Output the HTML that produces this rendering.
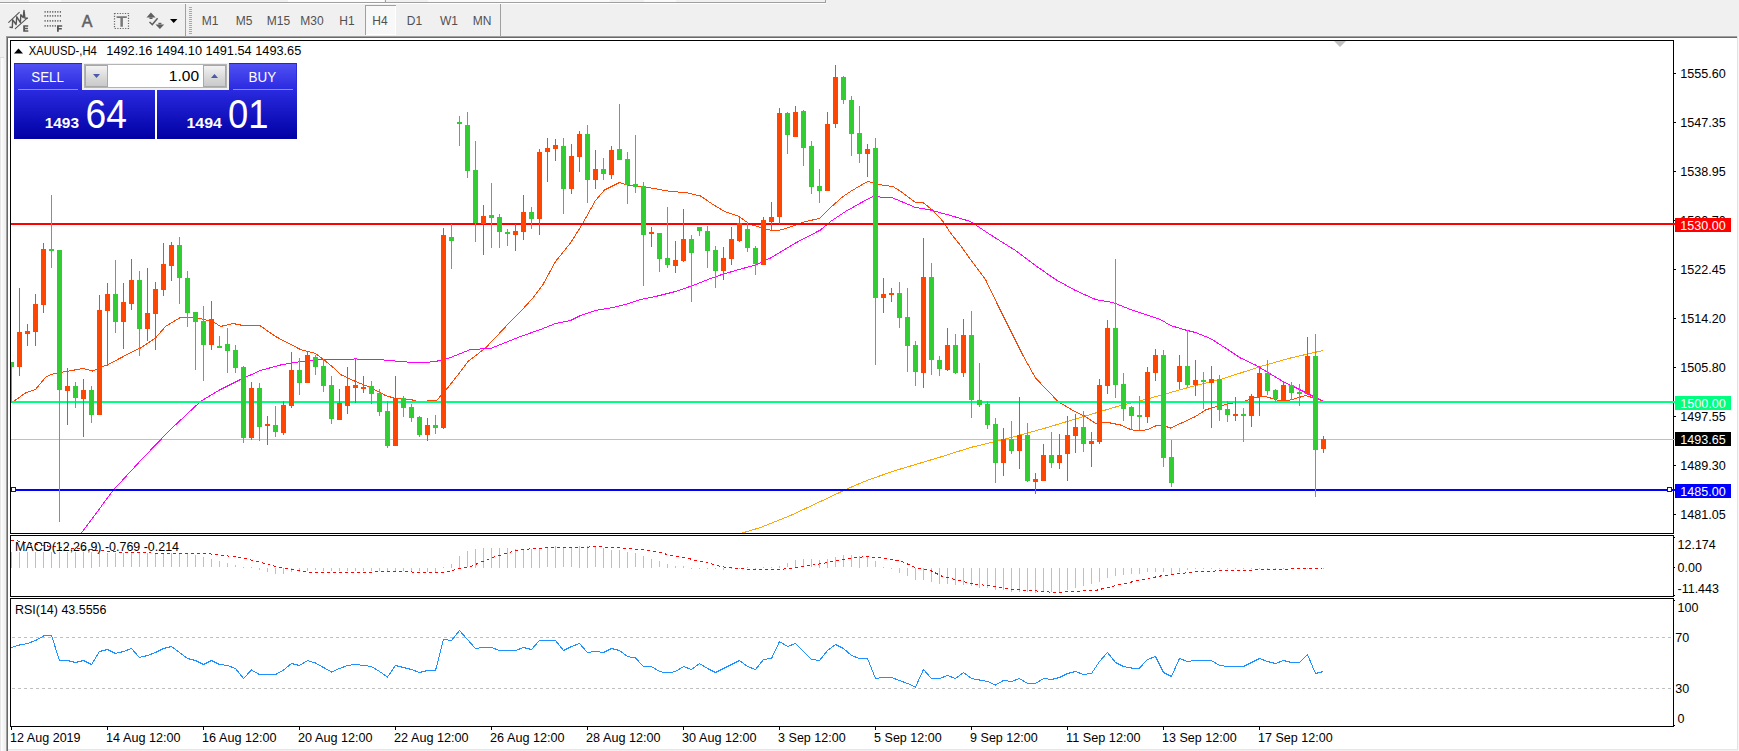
<!DOCTYPE html>
<html><head><meta charset="utf-8"><title>XAUUSD H4</title>
<style>html,body{margin:0;padding:0;background:#f0f0f0;overflow:hidden}body{width:1739px;height:751px;position:relative;font-family:"Liberation Sans",sans-serif}svg{position:absolute;left:0;top:0}text{font-family:"Liberation Sans",sans-serif}</style></head><body>
<svg width="1739" height="751" viewBox="0 0 1739 751">
<defs><linearGradient id="gb" x1="0" y1="0" x2="0" y2="1"><stop offset="0" stop-color="#5252f4"/><stop offset="0.35" stop-color="#2a2ae0"/><stop offset="1" stop-color="#0000a4"/></linearGradient>
<linearGradient id="gs" x1="0" y1="0" x2="0" y2="1"><stop offset="0" stop-color="#f4f4f4"/><stop offset="0.5" stop-color="#dcdcdc"/><stop offset="1" stop-color="#c8c8c8"/></linearGradient></defs>
<rect x="0" y="0" width="1739" height="751" fill="#f0f0f0"/>

<g id="toolbar">
<g shape-rendering="crispEdges"><rect x="29" y="0" width="32" height="2" fill="#fcfcfc"/><rect x="288" y="0" width="96" height="2" fill="#fcfcfc"/><rect x="428" y="0" width="182" height="2" fill="#fafafa"/><rect x="644" y="0" width="32" height="2" fill="#fafafa"/><rect x="0" y="2" width="826" height="1" fill="#a0a0a0"/><rect x="825" y="0" width="1" height="2" fill="#a0a0a0"/><rect x="0" y="3" width="826" height="1" fill="#ffffff"/><rect x="385" y="0" width="1" height="2" fill="#a0a0a0"/></g>
<g stroke="#555" fill="none" stroke-width="1.100" stroke-linecap="round" stroke-linejoin="round">
<line x1="8.700" y1="22.300" x2="19.300" y2="12.300"/>
<line x1="15.300" y1="28.700" x2="27.200" y2="18.100"/>
<polyline points="10,27.2 12.3,27.6 12.7,19.8 16.1,24.5 16.8,16.8 20.4,22.7 20.8,14.7 23.2,17.6 24,10.4 24.9,18.1 27.2,18.3" stroke-width="1.4"/>
</g>
<path d="M23.200 25.200h5v1.500h-3.200v1.100h2.900v1.400h-2.900v1.100h3.300v1.400h-5.100z" fill="#555"/>
<g stroke="#6a6a6a" stroke-width="1.800" stroke-dasharray="1.200 1.350" fill="none">
<line x1="44.500" y1="11.900" x2="61.500" y2="11.900"/>
<line x1="44.500" y1="15.800" x2="61.500" y2="15.800"/>
<line x1="44.500" y1="20.800" x2="61.500" y2="20.800"/>
<line x1="44.500" y1="25.900" x2="56" y2="25.900"/>
</g>
<path d="M57 25.200h5.200v1.500h-3.400v1.300h3v1.400h-3v2.300h-1.800z" fill="#555"/>
<text x="87" y="26.700" font-size="16px" fill="#606060" stroke="#606060" stroke-width="0.5" text-anchor="middle">A</text>
<rect x="114.500" y="13.500" width="14" height="15" fill="none" stroke="#666" stroke-width="1.200" stroke-dasharray="1.200 1.400"/>
<path d="M116.600 16.300h10.200v1.800h-3.900v8.600h-2.500v-8.600h-3.800z" fill="#777"/>
<g fill="#606060">
<polygon points="150.900,12.600 155.600,17.400 146.500,17.400"/>
<rect x="149.500" y="17.400" width="3" height="1.600"/>
<polygon points="159.900,28.900 155.500,24.400 164.200,24.400"/>
<rect x="158.400" y="22.800" width="3" height="1.600"/>
</g>
<polyline points="149.500,22 152.300,24.600 157.600,18.300" fill="none" stroke="#606060" stroke-width="1.500"/>
<polygon points="170,19 177.400,19 173.700,23" fill="#000"/>
<rect x="185" y="4" width="1" height="32" fill="#a0a0a0" shape-rendering="crispEdges"/>
<line x1="190.500" y1="7" x2="190.500" y2="34" stroke="#a8a8a8" stroke-width="3" stroke-dasharray="1 1" shape-rendering="crispEdges"/>
<rect x="500" y="4" width="1" height="32" fill="#a0a0a0" shape-rendering="crispEdges"/>
<g shape-rendering="crispEdges"><rect x="365" y="5" width="31" height="30" fill="#f8f8f8"/><rect x="365" y="5" width="31" height="1" fill="#a0a0a0"/><rect x="365" y="5" width="1" height="30" fill="#a0a0a0"/><rect x="395" y="6" width="1" height="29" fill="#ffffff"/><rect x="366" y="34" width="30" height="1" fill="#ffffff"/></g>
<g font-size="12px" fill="#505050" text-anchor="middle">
<text x="210" y="25">M1</text><text x="244" y="25">M5</text><text x="278.500" y="25">M15</text><text x="312" y="25">M30</text><text x="347" y="25">H1</text><text x="380" y="25">H4</text><text x="414.500" y="25">D1</text><text x="449" y="25">W1</text><text x="482" y="25">MN</text>
</g>
</g>

<g shape-rendering="crispEdges">
<rect x="6" y="36" width="1731" height="1" fill="#a0a0a0"/>
<rect x="6" y="37" width="1731" height="1" fill="#696969"/>
<rect x="6" y="36" width="1" height="715" fill="#a0a0a0"/>
<rect x="7" y="37" width="1" height="714" fill="#696969"/>
<rect x="1737" y="36" width="1" height="714" fill="#e3e3e3"/>
<rect x="1738" y="36" width="1" height="715" fill="#f6f6f6"/>
<rect x="8" y="749" width="1730" height="1" fill="#e6e6e6"/>
<rect x="0" y="57" width="1" height="694" fill="#e6e6e6"/>
<rect x="1" y="58" width="1" height="693" fill="#fdfdfd"/>
<rect x="2" y="58" width="1" height="693" fill="#f9f9f9"/>
<rect x="3" y="58" width="1" height="693" fill="#f5f5f5"/>
<rect x="0" y="57" width="4" height="1" fill="#dcdcdc"/>
<rect x="8" y="38" width="1729" height="711" fill="#ffffff"/>
</g>
<clipPath id="cm"><rect x="11" y="41" width="1662" height="492"/></clipPath>
<g clip-path="url(#cm)" shape-rendering="crispEdges">
<rect x="11" y="439" width="1662" height="1" fill="#c0c0c0"/>
<polyline points="740.5,533.5 760.5,527.5 790.5,515.5 820.5,501.5 848.0,488.5 868.0,480.0 895.5,470.5 920.5,463.0 945.5,455.5 970.5,447.5 995.5,441.5 1020.5,435.0 1045.5,428.0 1070.5,420.5 1095.5,413.0 1120.5,405.5 1145.5,399.5 1170.5,392.5 1195.5,385.5 1220.5,379.5 1260.5,366.5 1290.5,358.0 1323.0,350.5" fill="none" stroke="#ffa500" stroke-width="1" />
<polyline points="12.0,402.5 25.5,393.0 35.5,389.5 45.5,377.5 50.5,374.5 60.5,372.5 83.0,368.5 92.5,371.0 100.5,367.5 108.0,364.5 133.0,351.5 140.5,348.0 155.5,338.0 165.5,326.5 179.5,318.0 195.5,317.5 213.0,321.5 220.5,326.5 233.0,323.5 243.0,325.5 260.5,326.0 275.5,336.5 300.5,349.5 315.5,353.5 325.5,361.0 335.5,369.5 340.5,374.5 355.5,381.5 370.5,387.5 385.5,395.5 395.5,398.5 412.5,400.0 418.0,401.5 436.5,400.5 445.5,390.5 455.5,378.0 468.0,361.5 485.5,348.0 495.5,337.5 510.5,321.5 520.5,311.5 533.0,298.0 543.0,284.5 555.5,261.5 570.5,243.0 583.0,223.0 595.5,200.5 604.5,190.0 619.5,182.5 628.0,185.5 645.5,187.0 670.5,191.5 685.5,192.5 700.5,196.0 713.0,204.5 724.5,211.5 738.0,216.0 750.5,224.5 763.0,228.0 773.0,231.0 783.0,229.5 795.5,225.0 805.5,221.5 819.5,218.5 830.5,207.5 843.0,196.5 850.5,191.5 860.5,185.5 868.0,181.5 878.0,184.5 893.0,186.5 903.0,193.0 915.5,202.5 923.0,202.5 933.0,210.5 943.0,221.5 950.5,233.0 960.5,245.5 973.0,263.0 985.5,279.5 998.0,305.5 1010.5,330.5 1023.0,355.5 1035.5,378.0 1058.0,401.5 1073.0,410.5 1085.5,416.5 1095.5,423.5 1108.0,422.5 1120.5,425.0 1130.5,429.5 1138.0,431.0 1148.0,429.5 1155.5,426.0 1163.0,425.5 1170.5,428.0 1180.5,423.5 1195.5,416.5 1205.5,410.0 1213.0,407.5 1230.5,403.5 1245.5,401.0 1255.5,397.5 1265.5,396.5 1280.5,401.0 1290.5,400.0 1305.5,395.5 1315.5,398.5 1323.0,401.0" fill="none" stroke="#ff4500" stroke-width="1" />
<polyline points="81.5,533.0 113.0,490.5 143.0,458.0 170.5,429.5 200.5,401.5 220.5,389.5 240.5,379.5 260.5,370.5 280.5,365.0 300.5,361.5 320.5,359.5 355.5,359.0 375.5,359.2 400.5,361.5 420.5,363.0 435.5,361.5 448.0,358.5 458.0,354.5 470.5,349.5 490.5,348.5 500.5,344.5 520.5,336.5 540.5,329.5 555.5,323.5 570.5,320.5 580.5,315.5 595.5,310.5 610.5,308.0 625.5,304.5 640.5,299.5 655.5,296.5 675.5,291.5 693.0,285.5 710.5,278.5 720.5,275.0 735.5,270.5 755.5,265.0 770.5,258.0 795.5,243.0 820.5,230.0 830.5,221.5 845.5,211.5 860.5,203.0 873.0,196.5 893.0,198.0 915.5,207.5 930.5,210.0 950.5,215.5 970.5,221.5 985.5,231.5 995.5,238.0 1015.5,250.5 1035.5,265.5 1055.5,279.5 1075.5,290.5 1095.5,299.5 1113.0,302.5 1130.5,309.5 1145.5,314.5 1160.5,319.5 1170.5,325.5 1185.5,330.0 1195.5,332.5 1210.5,338.5 1225.5,348.0 1240.5,358.0 1255.5,365.0 1268.0,372.5 1283.0,381.5 1295.5,387.5 1310.5,395.0 1323.0,401.0" fill="none" stroke="#ff00ff" stroke-width="1" />
<rect x="11" y="223" width="1662" height="2" fill="#ff0000"/>
<rect x="11" y="401" width="1662" height="2" fill="#00ff7f"/>
<rect x="11" y="489" width="1662" height="2" fill="#0000ff"/>
<rect x="11.5" y="487.5" width="4" height="4" fill="#fff" stroke="#0000ff" stroke-width="1"/>
<rect x="1667.5" y="487.5" width="4" height="4" fill="#fff" stroke="#0000ff" stroke-width="1"/>
<rect x="11" y="362" width="1" height="41" fill="#32cd32"/>
<rect x="9" y="362" width="5" height="5" fill="#32cd32"/>
<rect x="19" y="288" width="1" height="88" fill="#ff4500"/>
<rect x="17" y="332" width="5" height="35" fill="#ff4500"/>
<rect x="27" y="324" width="1" height="22" fill="#ff4500"/>
<rect x="25" y="331" width="5" height="3" fill="#ff4500"/>
<rect x="35" y="294" width="1" height="52" fill="#ff4500"/>
<rect x="33" y="304" width="5" height="28" fill="#ff4500"/>
<rect x="43" y="243" width="1" height="70" fill="#ff4500"/>
<rect x="41" y="249" width="5" height="56" fill="#ff4500"/>
<rect x="51" y="195" width="1" height="73" fill="#32cd32"/>
<rect x="49" y="249" width="5" height="2" fill="#32cd32"/>
<rect x="59" y="250" width="1" height="272" fill="#32cd32"/>
<rect x="57" y="250" width="5" height="140" fill="#32cd32"/>
<rect x="67" y="368" width="1" height="57" fill="#ff4500"/>
<rect x="65" y="386" width="5" height="5" fill="#ff4500"/>
<rect x="75" y="382" width="1" height="26" fill="#32cd32"/>
<rect x="73" y="386" width="5" height="12" fill="#32cd32"/>
<rect x="83" y="379" width="1" height="58" fill="#ff4500"/>
<rect x="81" y="390" width="5" height="9" fill="#ff4500"/>
<rect x="91" y="386" width="1" height="37" fill="#32cd32"/>
<rect x="89" y="390" width="5" height="25" fill="#32cd32"/>
<rect x="99" y="295" width="1" height="120" fill="#ff4500"/>
<rect x="97" y="310" width="5" height="105" fill="#ff4500"/>
<rect x="107" y="283" width="1" height="83" fill="#ff4500"/>
<rect x="105" y="294" width="5" height="17" fill="#ff4500"/>
<rect x="115" y="260" width="1" height="73" fill="#32cd32"/>
<rect x="113" y="294" width="5" height="28" fill="#32cd32"/>
<rect x="123" y="283" width="1" height="66" fill="#ff4500"/>
<rect x="121" y="302" width="5" height="20" fill="#ff4500"/>
<rect x="131" y="259" width="1" height="51" fill="#ff4500"/>
<rect x="129" y="280" width="5" height="24" fill="#ff4500"/>
<rect x="139" y="271" width="1" height="85" fill="#32cd32"/>
<rect x="137" y="280" width="5" height="49" fill="#32cd32"/>
<rect x="147" y="268" width="1" height="73" fill="#ff4500"/>
<rect x="145" y="313" width="5" height="16" fill="#ff4500"/>
<rect x="155" y="282" width="1" height="68" fill="#ff4500"/>
<rect x="153" y="289" width="5" height="25" fill="#ff4500"/>
<rect x="163" y="243" width="1" height="53" fill="#ff4500"/>
<rect x="161" y="264" width="5" height="26" fill="#ff4500"/>
<rect x="171" y="242" width="1" height="39" fill="#ff4500"/>
<rect x="169" y="245" width="5" height="21" fill="#ff4500"/>
<rect x="179" y="237" width="1" height="67" fill="#32cd32"/>
<rect x="177" y="245" width="5" height="33" fill="#32cd32"/>
<rect x="187" y="271" width="1" height="56" fill="#32cd32"/>
<rect x="185" y="278" width="5" height="35" fill="#32cd32"/>
<rect x="195" y="312" width="1" height="58" fill="#32cd32"/>
<rect x="193" y="312" width="5" height="10" fill="#32cd32"/>
<rect x="203" y="306" width="1" height="75" fill="#32cd32"/>
<rect x="201" y="321" width="5" height="24" fill="#32cd32"/>
<rect x="211" y="301" width="1" height="49" fill="#ff4500"/>
<rect x="209" y="319" width="5" height="26" fill="#ff4500"/>
<rect x="219" y="336" width="1" height="12" fill="#32cd32"/>
<rect x="217" y="346" width="5" height="2" fill="#32cd32"/>
<rect x="227" y="328" width="1" height="45" fill="#32cd32"/>
<rect x="225" y="344" width="5" height="7" fill="#32cd32"/>
<rect x="235" y="345" width="1" height="28" fill="#32cd32"/>
<rect x="233" y="350" width="5" height="18" fill="#32cd32"/>
<rect x="243" y="366" width="1" height="77" fill="#32cd32"/>
<rect x="241" y="367" width="5" height="71" fill="#32cd32"/>
<rect x="251" y="382" width="1" height="58" fill="#ff4500"/>
<rect x="249" y="388" width="5" height="50" fill="#ff4500"/>
<rect x="259" y="383" width="1" height="58" fill="#32cd32"/>
<rect x="257" y="388" width="5" height="39" fill="#32cd32"/>
<rect x="267" y="416" width="1" height="29" fill="#ff4500"/>
<rect x="265" y="424" width="5" height="2" fill="#ff4500"/>
<rect x="275" y="406" width="1" height="31" fill="#32cd32"/>
<rect x="273" y="425" width="5" height="7" fill="#32cd32"/>
<rect x="283" y="401" width="1" height="34" fill="#ff4500"/>
<rect x="281" y="405" width="5" height="28" fill="#ff4500"/>
<rect x="291" y="352" width="1" height="56" fill="#ff4500"/>
<rect x="289" y="370" width="5" height="36" fill="#ff4500"/>
<rect x="299" y="358" width="1" height="37" fill="#32cd32"/>
<rect x="297" y="370" width="5" height="13" fill="#32cd32"/>
<rect x="307" y="352" width="1" height="31" fill="#ff4500"/>
<rect x="305" y="355" width="5" height="28" fill="#ff4500"/>
<rect x="315" y="355" width="1" height="20" fill="#32cd32"/>
<rect x="313" y="357" width="5" height="10" fill="#32cd32"/>
<rect x="323" y="359" width="1" height="33" fill="#32cd32"/>
<rect x="321" y="366" width="5" height="20" fill="#32cd32"/>
<rect x="331" y="376" width="1" height="48" fill="#32cd32"/>
<rect x="329" y="385" width="5" height="34" fill="#32cd32"/>
<rect x="339" y="389" width="1" height="31" fill="#ff4500"/>
<rect x="337" y="403" width="5" height="17" fill="#ff4500"/>
<rect x="347" y="367" width="1" height="47" fill="#ff4500"/>
<rect x="345" y="386" width="5" height="20" fill="#ff4500"/>
<rect x="355" y="358" width="1" height="45" fill="#ff4500"/>
<rect x="353" y="385" width="5" height="3" fill="#ff4500"/>
<rect x="363" y="376" width="1" height="17" fill="#ff4500"/>
<rect x="361" y="387" width="5" height="2" fill="#ff4500"/>
<rect x="371" y="381" width="1" height="23" fill="#32cd32"/>
<rect x="369" y="386" width="5" height="8" fill="#32cd32"/>
<rect x="379" y="389" width="1" height="27" fill="#32cd32"/>
<rect x="377" y="393" width="5" height="19" fill="#32cd32"/>
<rect x="387" y="401" width="1" height="47" fill="#32cd32"/>
<rect x="385" y="411" width="5" height="35" fill="#32cd32"/>
<rect x="395" y="376" width="1" height="70" fill="#ff4500"/>
<rect x="393" y="398" width="5" height="48" fill="#ff4500"/>
<rect x="403" y="396" width="1" height="21" fill="#32cd32"/>
<rect x="401" y="398" width="5" height="10" fill="#32cd32"/>
<rect x="411" y="404" width="1" height="18" fill="#32cd32"/>
<rect x="409" y="407" width="5" height="11" fill="#32cd32"/>
<rect x="419" y="416" width="1" height="21" fill="#32cd32"/>
<rect x="417" y="417" width="5" height="18" fill="#32cd32"/>
<rect x="427" y="418" width="1" height="23" fill="#ff4500"/>
<rect x="425" y="425" width="5" height="10" fill="#ff4500"/>
<rect x="435" y="415" width="1" height="19" fill="#32cd32"/>
<rect x="433" y="425" width="5" height="3" fill="#32cd32"/>
<rect x="443" y="228" width="1" height="201" fill="#ff4500"/>
<rect x="441" y="235" width="5" height="193" fill="#ff4500"/>
<rect x="451" y="224" width="1" height="45" fill="#32cd32"/>
<rect x="449" y="237" width="5" height="4" fill="#32cd32"/>
<rect x="459" y="116" width="1" height="30" fill="#32cd32"/>
<rect x="457" y="122" width="5" height="2" fill="#32cd32"/>
<rect x="467" y="112" width="1" height="66" fill="#32cd32"/>
<rect x="465" y="125" width="5" height="46" fill="#32cd32"/>
<rect x="475" y="141" width="1" height="101" fill="#32cd32"/>
<rect x="473" y="170" width="5" height="53" fill="#32cd32"/>
<rect x="483" y="205" width="1" height="50" fill="#ff4500"/>
<rect x="481" y="216" width="5" height="8" fill="#ff4500"/>
<rect x="491" y="183" width="1" height="65" fill="#32cd32"/>
<rect x="489" y="215" width="5" height="3" fill="#32cd32"/>
<rect x="499" y="214" width="1" height="34" fill="#32cd32"/>
<rect x="497" y="217" width="5" height="15" fill="#32cd32"/>
<rect x="507" y="229" width="1" height="17" fill="#32cd32"/>
<rect x="505" y="232" width="5" height="2" fill="#32cd32"/>
<rect x="515" y="224" width="1" height="27" fill="#ff4500"/>
<rect x="513" y="231" width="5" height="4" fill="#ff4500"/>
<rect x="523" y="195" width="1" height="45" fill="#ff4500"/>
<rect x="521" y="212" width="5" height="20" fill="#ff4500"/>
<rect x="531" y="207" width="1" height="22" fill="#32cd32"/>
<rect x="529" y="212" width="5" height="7" fill="#32cd32"/>
<rect x="539" y="149" width="1" height="86" fill="#ff4500"/>
<rect x="537" y="152" width="5" height="67" fill="#ff4500"/>
<rect x="547" y="138" width="1" height="44" fill="#ff4500"/>
<rect x="545" y="148" width="5" height="4" fill="#ff4500"/>
<rect x="555" y="139" width="1" height="22" fill="#ff4500"/>
<rect x="553" y="145" width="5" height="4" fill="#ff4500"/>
<rect x="563" y="138" width="1" height="76" fill="#32cd32"/>
<rect x="561" y="146" width="5" height="43" fill="#32cd32"/>
<rect x="571" y="144" width="1" height="50" fill="#ff4500"/>
<rect x="569" y="156" width="5" height="33" fill="#ff4500"/>
<rect x="579" y="131" width="1" height="41" fill="#ff4500"/>
<rect x="577" y="134" width="5" height="23" fill="#ff4500"/>
<rect x="587" y="125" width="1" height="78" fill="#32cd32"/>
<rect x="585" y="134" width="5" height="46" fill="#32cd32"/>
<rect x="595" y="150" width="1" height="39" fill="#ff4500"/>
<rect x="593" y="169" width="5" height="11" fill="#ff4500"/>
<rect x="603" y="158" width="1" height="22" fill="#32cd32"/>
<rect x="601" y="169" width="5" height="5" fill="#32cd32"/>
<rect x="611" y="146" width="1" height="33" fill="#ff4500"/>
<rect x="609" y="150" width="5" height="25" fill="#ff4500"/>
<rect x="619" y="104" width="1" height="56" fill="#32cd32"/>
<rect x="617" y="149" width="5" height="11" fill="#32cd32"/>
<rect x="627" y="152" width="1" height="52" fill="#32cd32"/>
<rect x="625" y="159" width="5" height="26" fill="#32cd32"/>
<rect x="635" y="135" width="1" height="58" fill="#32cd32"/>
<rect x="633" y="184" width="5" height="3" fill="#32cd32"/>
<rect x="643" y="182" width="1" height="104" fill="#32cd32"/>
<rect x="641" y="186" width="5" height="49" fill="#32cd32"/>
<rect x="651" y="227" width="1" height="20" fill="#ff4500"/>
<rect x="649" y="232" width="5" height="2" fill="#ff4500"/>
<rect x="659" y="233" width="1" height="39" fill="#32cd32"/>
<rect x="657" y="233" width="5" height="26" fill="#32cd32"/>
<rect x="667" y="207" width="1" height="61" fill="#32cd32"/>
<rect x="665" y="258" width="5" height="7" fill="#32cd32"/>
<rect x="675" y="241" width="1" height="32" fill="#ff4500"/>
<rect x="673" y="260" width="5" height="6" fill="#ff4500"/>
<rect x="683" y="209" width="1" height="53" fill="#ff4500"/>
<rect x="681" y="239" width="5" height="22" fill="#ff4500"/>
<rect x="691" y="235" width="1" height="67" fill="#32cd32"/>
<rect x="689" y="239" width="5" height="14" fill="#32cd32"/>
<rect x="699" y="227" width="1" height="9" fill="#32cd32"/>
<rect x="697" y="227" width="5" height="4" fill="#32cd32"/>
<rect x="707" y="226" width="1" height="42" fill="#32cd32"/>
<rect x="705" y="231" width="5" height="20" fill="#32cd32"/>
<rect x="715" y="246" width="1" height="42" fill="#32cd32"/>
<rect x="713" y="250" width="5" height="21" fill="#32cd32"/>
<rect x="723" y="247" width="1" height="33" fill="#ff4500"/>
<rect x="721" y="258" width="5" height="13" fill="#ff4500"/>
<rect x="731" y="227" width="1" height="38" fill="#ff4500"/>
<rect x="729" y="239" width="5" height="20" fill="#ff4500"/>
<rect x="739" y="218" width="1" height="24" fill="#ff4500"/>
<rect x="737" y="223" width="5" height="18" fill="#ff4500"/>
<rect x="747" y="222" width="1" height="30" fill="#32cd32"/>
<rect x="745" y="229" width="5" height="19" fill="#32cd32"/>
<rect x="755" y="246" width="1" height="29" fill="#32cd32"/>
<rect x="753" y="248" width="5" height="16" fill="#32cd32"/>
<rect x="763" y="217" width="1" height="48" fill="#ff4500"/>
<rect x="761" y="220" width="5" height="45" fill="#ff4500"/>
<rect x="771" y="202" width="1" height="28" fill="#ff4500"/>
<rect x="769" y="217" width="5" height="5" fill="#ff4500"/>
<rect x="779" y="108" width="1" height="116" fill="#ff4500"/>
<rect x="777" y="113" width="5" height="104" fill="#ff4500"/>
<rect x="787" y="112" width="1" height="42" fill="#32cd32"/>
<rect x="785" y="113" width="5" height="22" fill="#32cd32"/>
<rect x="795" y="106" width="1" height="31" fill="#ff4500"/>
<rect x="793" y="112" width="5" height="25" fill="#ff4500"/>
<rect x="803" y="110" width="1" height="56" fill="#32cd32"/>
<rect x="801" y="111" width="5" height="37" fill="#32cd32"/>
<rect x="811" y="141" width="1" height="53" fill="#32cd32"/>
<rect x="809" y="146" width="5" height="41" fill="#32cd32"/>
<rect x="819" y="169" width="1" height="34" fill="#32cd32"/>
<rect x="817" y="186" width="5" height="5" fill="#32cd32"/>
<rect x="827" y="112" width="1" height="79" fill="#ff4500"/>
<rect x="825" y="124" width="5" height="67" fill="#ff4500"/>
<rect x="835" y="65" width="1" height="63" fill="#ff4500"/>
<rect x="833" y="77" width="5" height="47" fill="#ff4500"/>
<rect x="843" y="76" width="1" height="28" fill="#32cd32"/>
<rect x="841" y="77" width="5" height="23" fill="#32cd32"/>
<rect x="851" y="96" width="1" height="60" fill="#32cd32"/>
<rect x="849" y="100" width="5" height="34" fill="#32cd32"/>
<rect x="859" y="106" width="1" height="57" fill="#32cd32"/>
<rect x="857" y="133" width="5" height="21" fill="#32cd32"/>
<rect x="867" y="144" width="1" height="33" fill="#ff4500"/>
<rect x="865" y="149" width="5" height="5" fill="#ff4500"/>
<rect x="875" y="138" width="1" height="227" fill="#32cd32"/>
<rect x="873" y="148" width="5" height="150" fill="#32cd32"/>
<rect x="883" y="278" width="1" height="35" fill="#ff4500"/>
<rect x="881" y="294" width="5" height="4" fill="#ff4500"/>
<rect x="891" y="288" width="1" height="14" fill="#ff4500"/>
<rect x="889" y="293" width="5" height="2" fill="#ff4500"/>
<rect x="899" y="282" width="1" height="46" fill="#32cd32"/>
<rect x="897" y="293" width="5" height="25" fill="#32cd32"/>
<rect x="907" y="288" width="1" height="84" fill="#32cd32"/>
<rect x="905" y="317" width="5" height="29" fill="#32cd32"/>
<rect x="915" y="341" width="1" height="45" fill="#32cd32"/>
<rect x="913" y="345" width="5" height="27" fill="#32cd32"/>
<rect x="923" y="238" width="1" height="150" fill="#ff4500"/>
<rect x="921" y="277" width="5" height="96" fill="#ff4500"/>
<rect x="931" y="263" width="1" height="112" fill="#32cd32"/>
<rect x="929" y="277" width="5" height="83" fill="#32cd32"/>
<rect x="939" y="356" width="1" height="20" fill="#32cd32"/>
<rect x="937" y="360" width="5" height="9" fill="#32cd32"/>
<rect x="947" y="328" width="1" height="43" fill="#ff4500"/>
<rect x="945" y="345" width="5" height="25" fill="#ff4500"/>
<rect x="955" y="334" width="1" height="40" fill="#32cd32"/>
<rect x="953" y="345" width="5" height="28" fill="#32cd32"/>
<rect x="963" y="319" width="1" height="58" fill="#ff4500"/>
<rect x="961" y="335" width="5" height="38" fill="#ff4500"/>
<rect x="971" y="311" width="1" height="107" fill="#32cd32"/>
<rect x="969" y="335" width="5" height="65" fill="#32cd32"/>
<rect x="979" y="363" width="1" height="44" fill="#32cd32"/>
<rect x="977" y="400" width="5" height="5" fill="#32cd32"/>
<rect x="987" y="401" width="1" height="28" fill="#32cd32"/>
<rect x="985" y="404" width="5" height="21" fill="#32cd32"/>
<rect x="995" y="418" width="1" height="65" fill="#32cd32"/>
<rect x="993" y="424" width="5" height="39" fill="#32cd32"/>
<rect x="1003" y="428" width="1" height="48" fill="#ff4500"/>
<rect x="1001" y="439" width="5" height="24" fill="#ff4500"/>
<rect x="1011" y="421" width="1" height="33" fill="#32cd32"/>
<rect x="1009" y="439" width="5" height="12" fill="#32cd32"/>
<rect x="1019" y="397" width="1" height="72" fill="#ff4500"/>
<rect x="1017" y="435" width="5" height="16" fill="#ff4500"/>
<rect x="1027" y="423" width="1" height="59" fill="#32cd32"/>
<rect x="1025" y="435" width="5" height="46" fill="#32cd32"/>
<rect x="1035" y="473" width="1" height="21" fill="#ff4500"/>
<rect x="1033" y="479" width="5" height="3" fill="#ff4500"/>
<rect x="1043" y="444" width="1" height="37" fill="#ff4500"/>
<rect x="1041" y="455" width="5" height="26" fill="#ff4500"/>
<rect x="1051" y="432" width="1" height="36" fill="#32cd32"/>
<rect x="1049" y="455" width="5" height="8" fill="#32cd32"/>
<rect x="1059" y="434" width="1" height="35" fill="#ff4500"/>
<rect x="1057" y="455" width="5" height="8" fill="#ff4500"/>
<rect x="1067" y="416" width="1" height="65" fill="#ff4500"/>
<rect x="1065" y="435" width="5" height="19" fill="#ff4500"/>
<rect x="1075" y="414" width="1" height="39" fill="#ff4500"/>
<rect x="1073" y="427" width="5" height="9" fill="#ff4500"/>
<rect x="1083" y="411" width="1" height="41" fill="#32cd32"/>
<rect x="1081" y="427" width="5" height="17" fill="#32cd32"/>
<rect x="1091" y="432" width="1" height="35" fill="#ff4500"/>
<rect x="1089" y="441" width="5" height="3" fill="#ff4500"/>
<rect x="1099" y="379" width="1" height="65" fill="#ff4500"/>
<rect x="1097" y="385" width="5" height="57" fill="#ff4500"/>
<rect x="1107" y="320" width="1" height="74" fill="#ff4500"/>
<rect x="1105" y="328" width="5" height="58" fill="#ff4500"/>
<rect x="1115" y="259" width="1" height="139" fill="#32cd32"/>
<rect x="1113" y="328" width="5" height="57" fill="#32cd32"/>
<rect x="1123" y="373" width="1" height="48" fill="#32cd32"/>
<rect x="1121" y="384" width="5" height="25" fill="#32cd32"/>
<rect x="1131" y="406" width="1" height="23" fill="#32cd32"/>
<rect x="1129" y="407" width="5" height="9" fill="#32cd32"/>
<rect x="1139" y="396" width="1" height="34" fill="#32cd32"/>
<rect x="1137" y="415" width="5" height="2" fill="#32cd32"/>
<rect x="1147" y="367" width="1" height="56" fill="#ff4500"/>
<rect x="1145" y="372" width="5" height="45" fill="#ff4500"/>
<rect x="1155" y="349" width="1" height="32" fill="#ff4500"/>
<rect x="1153" y="355" width="5" height="18" fill="#ff4500"/>
<rect x="1163" y="350" width="1" height="117" fill="#32cd32"/>
<rect x="1161" y="355" width="5" height="103" fill="#32cd32"/>
<rect x="1171" y="440" width="1" height="47" fill="#32cd32"/>
<rect x="1169" y="457" width="5" height="26" fill="#32cd32"/>
<rect x="1179" y="355" width="1" height="34" fill="#ff4500"/>
<rect x="1177" y="366" width="5" height="16" fill="#ff4500"/>
<rect x="1187" y="330" width="1" height="57" fill="#32cd32"/>
<rect x="1185" y="366" width="5" height="19" fill="#32cd32"/>
<rect x="1195" y="360" width="1" height="36" fill="#ff4500"/>
<rect x="1193" y="380" width="5" height="5" fill="#ff4500"/>
<rect x="1203" y="372" width="1" height="37" fill="#32cd32"/>
<rect x="1201" y="380" width="5" height="2" fill="#32cd32"/>
<rect x="1211" y="366" width="1" height="62" fill="#ff4500"/>
<rect x="1209" y="379" width="5" height="4" fill="#ff4500"/>
<rect x="1219" y="375" width="1" height="46" fill="#32cd32"/>
<rect x="1217" y="379" width="5" height="31" fill="#32cd32"/>
<rect x="1227" y="401" width="1" height="21" fill="#32cd32"/>
<rect x="1225" y="409" width="5" height="6" fill="#32cd32"/>
<rect x="1235" y="397" width="1" height="24" fill="#ff4500"/>
<rect x="1233" y="414" width="5" height="2" fill="#ff4500"/>
<rect x="1243" y="408" width="1" height="34" fill="#32cd32"/>
<rect x="1241" y="414" width="5" height="2" fill="#32cd32"/>
<rect x="1251" y="394" width="1" height="33" fill="#ff4500"/>
<rect x="1249" y="396" width="5" height="20" fill="#ff4500"/>
<rect x="1259" y="366" width="1" height="50" fill="#ff4500"/>
<rect x="1257" y="373" width="5" height="24" fill="#ff4500"/>
<rect x="1267" y="360" width="1" height="35" fill="#32cd32"/>
<rect x="1265" y="373" width="5" height="18" fill="#32cd32"/>
<rect x="1275" y="389" width="1" height="13" fill="#32cd32"/>
<rect x="1273" y="390" width="5" height="9" fill="#32cd32"/>
<rect x="1283" y="381" width="1" height="20" fill="#ff4500"/>
<rect x="1281" y="385" width="5" height="15" fill="#ff4500"/>
<rect x="1291" y="382" width="1" height="18" fill="#32cd32"/>
<rect x="1289" y="385" width="5" height="8" fill="#32cd32"/>
<rect x="1299" y="384" width="1" height="22" fill="#32cd32"/>
<rect x="1297" y="392" width="5" height="2" fill="#32cd32"/>
<rect x="1307" y="337" width="1" height="58" fill="#ff4500"/>
<rect x="1305" y="356" width="5" height="38" fill="#ff4500"/>
<rect x="1315" y="334" width="1" height="163" fill="#32cd32"/>
<rect x="1313" y="356" width="5" height="94" fill="#32cd32"/>
<rect x="1323" y="436" width="1" height="17" fill="#ff4500"/>
<rect x="1321" y="439" width="5" height="10" fill="#ff4500"/>
<polygon points="1334,41 1346,41 1340,47" fill="#c0c0c0" shape-rendering="geometricPrecision"/>
</g>
<g shape-rendering="crispEdges" fill="#000">
<rect x="10" y="40" width="1664" height="1"/>
<rect x="10" y="533" width="1664" height="1"/>
<rect x="10" y="40" width="1" height="494"/>
<rect x="1673" y="40" width="1" height="494"/>
<rect x="10" y="535" width="1664" height="1"/>
<rect x="10" y="596" width="1664" height="1"/>
<rect x="10" y="535" width="1" height="62"/>
<rect x="1673" y="535" width="1" height="62"/>
<rect x="10" y="598" width="1664" height="1"/>
<rect x="10" y="726" width="1664" height="1"/>
<rect x="10" y="598" width="1" height="129"/>
<rect x="1673" y="598" width="1" height="129"/>
</g>
<g shape-rendering="crispEdges"><rect x="1673" y="223" width="2" height="2" fill="#ff0000"/><rect x="1673" y="401" width="2" height="2" fill="#00ff7f"/><rect x="1673" y="439" width="2" height="1" fill="#c0c0c0"/><rect x="1673" y="489" width="2" height="2" fill="#0000ff"/></g>
<clipPath id="c2"><rect x="11" y="536" width="1662" height="60"/></clipPath>
<g clip-path="url(#c2)" shape-rendering="crispEdges">
<rect x="11" y="552" width="1" height="16" fill="#c0c0c0"/>
<rect x="19" y="552" width="1" height="16" fill="#c0c0c0"/>
<rect x="27" y="552" width="1" height="16" fill="#c0c0c0"/>
<rect x="35" y="552" width="1" height="16" fill="#c0c0c0"/>
<rect x="43" y="552" width="1" height="16" fill="#c0c0c0"/>
<rect x="51" y="552" width="1" height="16" fill="#c0c0c0"/>
<rect x="59" y="552" width="1" height="16" fill="#c0c0c0"/>
<rect x="67" y="552" width="1" height="16" fill="#c0c0c0"/>
<rect x="75" y="552" width="1" height="16" fill="#c0c0c0"/>
<rect x="83" y="552" width="1" height="16" fill="#c0c0c0"/>
<rect x="91" y="552" width="1" height="16" fill="#c0c0c0"/>
<rect x="99" y="553" width="1" height="14" fill="#c0c0c0"/>
<rect x="107" y="553" width="1" height="14" fill="#c0c0c0"/>
<rect x="115" y="553" width="1" height="14" fill="#c0c0c0"/>
<rect x="123" y="553" width="1" height="14" fill="#c0c0c0"/>
<rect x="131" y="553" width="1" height="14" fill="#c0c0c0"/>
<rect x="139" y="553" width="1" height="14" fill="#c0c0c0"/>
<rect x="147" y="553" width="1" height="14" fill="#c0c0c0"/>
<rect x="155" y="553" width="1" height="14" fill="#c0c0c0"/>
<rect x="163" y="553" width="1" height="14" fill="#c0c0c0"/>
<rect x="171" y="553" width="1" height="14" fill="#c0c0c0"/>
<rect x="179" y="553" width="1" height="14" fill="#c0c0c0"/>
<rect x="187" y="553" width="1" height="14" fill="#c0c0c0"/>
<rect x="195" y="555" width="1" height="12" fill="#c0c0c0"/>
<rect x="203" y="557" width="1" height="10" fill="#c0c0c0"/>
<rect x="211" y="559" width="1" height="8" fill="#c0c0c0"/>
<rect x="219" y="561" width="1" height="6" fill="#c0c0c0"/>
<rect x="227" y="563" width="1" height="4" fill="#c0c0c0"/>
<rect x="235" y="565" width="1" height="2" fill="#c0c0c0"/>
<rect x="243" y="567" width="1" height="1" fill="#c0c0c0"/>
<rect x="251" y="567" width="1" height="1" fill="#c0c0c0"/>
<rect x="259" y="568" width="1" height="2" fill="#c0c0c0"/>
<rect x="267" y="568" width="1" height="4" fill="#c0c0c0"/>
<rect x="275" y="568" width="1" height="6" fill="#c0c0c0"/>
<rect x="283" y="568" width="1" height="6" fill="#c0c0c0"/>
<rect x="291" y="568" width="1" height="4" fill="#c0c0c0"/>
<rect x="299" y="568" width="1" height="4" fill="#c0c0c0"/>
<rect x="307" y="568" width="1" height="3" fill="#c0c0c0"/>
<rect x="315" y="568" width="1" height="2" fill="#c0c0c0"/>
<rect x="323" y="568" width="1" height="3" fill="#c0c0c0"/>
<rect x="331" y="568" width="1" height="3" fill="#c0c0c0"/>
<rect x="339" y="568" width="1" height="3" fill="#c0c0c0"/>
<rect x="347" y="568" width="1" height="3" fill="#c0c0c0"/>
<rect x="355" y="568" width="1" height="3" fill="#c0c0c0"/>
<rect x="363" y="568" width="1" height="3" fill="#c0c0c0"/>
<rect x="371" y="568" width="1" height="3" fill="#c0c0c0"/>
<rect x="379" y="568" width="1" height="3" fill="#c0c0c0"/>
<rect x="387" y="568" width="1" height="3" fill="#c0c0c0"/>
<rect x="395" y="568" width="1" height="3" fill="#c0c0c0"/>
<rect x="403" y="568" width="1" height="3" fill="#c0c0c0"/>
<rect x="411" y="568" width="1" height="3" fill="#c0c0c0"/>
<rect x="419" y="568" width="1" height="3" fill="#c0c0c0"/>
<rect x="427" y="568" width="1" height="4" fill="#c0c0c0"/>
<rect x="435" y="568" width="1" height="4" fill="#c0c0c0"/>
<rect x="443" y="567" width="1" height="1" fill="#c0c0c0"/>
<rect x="451" y="564" width="1" height="4" fill="#c0c0c0"/>
<rect x="459" y="556" width="1" height="12" fill="#c0c0c0"/>
<rect x="467" y="551" width="1" height="16" fill="#c0c0c0"/>
<rect x="475" y="549" width="1" height="19" fill="#c0c0c0"/>
<rect x="483" y="548" width="1" height="20" fill="#c0c0c0"/>
<rect x="491" y="548" width="1" height="20" fill="#c0c0c0"/>
<rect x="499" y="548" width="1" height="20" fill="#c0c0c0"/>
<rect x="507" y="548" width="1" height="20" fill="#c0c0c0"/>
<rect x="515" y="549" width="1" height="19" fill="#c0c0c0"/>
<rect x="523" y="549" width="1" height="19" fill="#c0c0c0"/>
<rect x="531" y="549" width="1" height="19" fill="#c0c0c0"/>
<rect x="539" y="549" width="1" height="19" fill="#c0c0c0"/>
<rect x="547" y="547" width="1" height="20" fill="#c0c0c0"/>
<rect x="555" y="546" width="1" height="22" fill="#c0c0c0"/>
<rect x="563" y="547" width="1" height="20" fill="#c0c0c0"/>
<rect x="571" y="547" width="1" height="20" fill="#c0c0c0"/>
<rect x="579" y="546" width="1" height="22" fill="#c0c0c0"/>
<rect x="587" y="546" width="1" height="22" fill="#c0c0c0"/>
<rect x="595" y="547" width="1" height="20" fill="#c0c0c0"/>
<rect x="603" y="548" width="1" height="20" fill="#c0c0c0"/>
<rect x="611" y="550" width="1" height="18" fill="#c0c0c0"/>
<rect x="619" y="550" width="1" height="18" fill="#c0c0c0"/>
<rect x="627" y="552" width="1" height="16" fill="#c0c0c0"/>
<rect x="635" y="553" width="1" height="14" fill="#c0c0c0"/>
<rect x="643" y="556" width="1" height="12" fill="#c0c0c0"/>
<rect x="651" y="559" width="1" height="9" fill="#c0c0c0"/>
<rect x="659" y="561" width="1" height="6" fill="#c0c0c0"/>
<rect x="667" y="564" width="1" height="4" fill="#c0c0c0"/>
<rect x="675" y="566" width="1" height="2" fill="#c0c0c0"/>
<rect x="683" y="566" width="1" height="2" fill="#c0c0c0"/>
<rect x="691" y="568" width="1" height="1" fill="#c0c0c0"/>
<rect x="699" y="568" width="1" height="1" fill="#c0c0c0"/>
<rect x="707" y="568" width="1" height="1" fill="#c0c0c0"/>
<rect x="715" y="568" width="1" height="1" fill="#c0c0c0"/>
<rect x="723" y="568" width="1" height="2" fill="#c0c0c0"/>
<rect x="731" y="568" width="1" height="1" fill="#c0c0c0"/>
<rect x="739" y="568" width="1" height="1" fill="#c0c0c0"/>
<rect x="747" y="567" width="1" height="1" fill="#c0c0c0"/>
<rect x="755" y="568" width="1" height="1" fill="#c0c0c0"/>
<rect x="763" y="567" width="1" height="1" fill="#c0c0c0"/>
<rect x="771" y="567" width="1" height="1" fill="#c0c0c0"/>
<rect x="779" y="566" width="1" height="2" fill="#c0c0c0"/>
<rect x="787" y="563" width="1" height="4" fill="#c0c0c0"/>
<rect x="795" y="560" width="1" height="8" fill="#c0c0c0"/>
<rect x="803" y="559" width="1" height="8" fill="#c0c0c0"/>
<rect x="811" y="559" width="1" height="8" fill="#c0c0c0"/>
<rect x="819" y="560" width="1" height="8" fill="#c0c0c0"/>
<rect x="827" y="559" width="1" height="9" fill="#c0c0c0"/>
<rect x="835" y="557" width="1" height="10" fill="#c0c0c0"/>
<rect x="843" y="555" width="1" height="12" fill="#c0c0c0"/>
<rect x="851" y="555" width="1" height="12" fill="#c0c0c0"/>
<rect x="859" y="556" width="1" height="12" fill="#c0c0c0"/>
<rect x="867" y="557" width="1" height="10" fill="#c0c0c0"/>
<rect x="875" y="561" width="1" height="6" fill="#c0c0c0"/>
<rect x="883" y="567" width="1" height="1" fill="#c0c0c0"/>
<rect x="891" y="568" width="1" height="1" fill="#c0c0c0"/>
<rect x="899" y="568" width="1" height="5" fill="#c0c0c0"/>
<rect x="907" y="568" width="1" height="8" fill="#c0c0c0"/>
<rect x="915" y="568" width="1" height="12" fill="#c0c0c0"/>
<rect x="923" y="568" width="1" height="12" fill="#c0c0c0"/>
<rect x="931" y="568" width="1" height="14" fill="#c0c0c0"/>
<rect x="939" y="568" width="1" height="16" fill="#c0c0c0"/>
<rect x="947" y="568" width="1" height="16" fill="#c0c0c0"/>
<rect x="955" y="568" width="1" height="17" fill="#c0c0c0"/>
<rect x="963" y="568" width="1" height="17" fill="#c0c0c0"/>
<rect x="971" y="568" width="1" height="18" fill="#c0c0c0"/>
<rect x="979" y="568" width="1" height="20" fill="#c0c0c0"/>
<rect x="987" y="568" width="1" height="20" fill="#c0c0c0"/>
<rect x="995" y="568" width="1" height="22" fill="#c0c0c0"/>
<rect x="1003" y="568" width="1" height="22" fill="#c0c0c0"/>
<rect x="1011" y="568" width="1" height="24" fill="#c0c0c0"/>
<rect x="1019" y="568" width="1" height="24" fill="#c0c0c0"/>
<rect x="1027" y="568" width="1" height="24" fill="#c0c0c0"/>
<rect x="1035" y="568" width="1" height="25" fill="#c0c0c0"/>
<rect x="1043" y="568" width="1" height="24" fill="#c0c0c0"/>
<rect x="1051" y="568" width="1" height="24" fill="#c0c0c0"/>
<rect x="1059" y="568" width="1" height="24" fill="#c0c0c0"/>
<rect x="1067" y="568" width="1" height="22" fill="#c0c0c0"/>
<rect x="1075" y="568" width="1" height="20" fill="#c0c0c0"/>
<rect x="1083" y="568" width="1" height="18" fill="#c0c0c0"/>
<rect x="1091" y="568" width="1" height="16" fill="#c0c0c0"/>
<rect x="1099" y="568" width="1" height="14" fill="#c0c0c0"/>
<rect x="1107" y="568" width="1" height="10" fill="#c0c0c0"/>
<rect x="1115" y="568" width="1" height="8" fill="#c0c0c0"/>
<rect x="1123" y="568" width="1" height="7" fill="#c0c0c0"/>
<rect x="1131" y="568" width="1" height="6" fill="#c0c0c0"/>
<rect x="1139" y="568" width="1" height="6" fill="#c0c0c0"/>
<rect x="1147" y="568" width="1" height="4" fill="#c0c0c0"/>
<rect x="1155" y="568" width="1" height="4" fill="#c0c0c0"/>
<rect x="1163" y="568" width="1" height="4" fill="#c0c0c0"/>
<rect x="1171" y="568" width="1" height="6" fill="#c0c0c0"/>
<rect x="1179" y="568" width="1" height="4" fill="#c0c0c0"/>
<rect x="1187" y="568" width="1" height="2" fill="#c0c0c0"/>
<rect x="1195" y="568" width="1" height="1" fill="#c0c0c0"/>
<rect x="1203" y="568" width="1" height="1" fill="#c0c0c0"/>
<rect x="1211" y="568" width="1" height="1" fill="#c0c0c0"/>
<rect x="1219" y="568" width="1" height="1" fill="#c0c0c0"/>
<rect x="1227" y="568" width="1" height="1" fill="#c0c0c0"/>
<rect x="1235" y="568" width="1" height="1" fill="#c0c0c0"/>
<rect x="1243" y="568" width="1" height="1" fill="#c0c0c0"/>
<rect x="1251" y="568" width="1" height="1" fill="#c0c0c0"/>
<rect x="1259" y="568" width="1" height="1" fill="#c0c0c0"/>
<rect x="1267" y="568" width="1" height="1" fill="#c0c0c0"/>
<rect x="1275" y="568" width="1" height="1" fill="#c0c0c0"/>
<rect x="1283" y="568" width="1" height="1" fill="#c0c0c0"/>
<rect x="1291" y="568" width="1" height="1" fill="#c0c0c0"/>
<rect x="1299" y="568" width="1" height="1" fill="#c0c0c0"/>
<rect x="1307" y="568" width="1" height="1" fill="#c0c0c0"/>
<rect x="1315" y="568" width="1" height="1" fill="#c0c0c0"/>
<rect x="1323" y="568" width="1" height="1" fill="#c0c0c0"/>
<polyline points="11.5,540.0 20.5,541.5 50.5,546.5 75.5,548.5 100.5,550.5 125.5,552.5 150.5,553.0 200.5,553.0 215.5,554.5 240.5,557.5 257.5,561.5 275.5,566.5 295.5,570.0 312.5,572.5 350.5,572.5 400.5,571.5 434.5,573.0 445.5,572.5 457.5,569.0 470.5,566.5 482.5,561.5 495.5,556.5 507.5,553.0 520.5,549.5 545.5,548.0 582.5,547.5 595.5,546.5 620.5,548.0 645.5,550.0 660.5,552.5 670.5,555.5 685.5,557.5 695.5,560.5 710.5,563.5 720.5,566.5 735.5,568.5 755.5,569.5 780.5,569.5 795.5,567.5 810.5,565.5 825.5,563.0 840.5,560.0 852.5,558.0 867.5,556.5 885.5,558.5 900.5,561.0 915.5,567.5 930.5,570.5 942.5,576.5 955.5,579.5 970.5,583.5 990.5,586.0 1010.5,589.5 1030.5,590.5 1055.5,592.5 1070.5,591.5 1095.5,590.5 1105.5,588.0 1120.5,584.5 1140.5,580.0 1160.5,576.0 1180.5,573.5 1200.5,571.5 1230.5,570.5 1275.5,569.5 1322.5,568.0" fill="none" stroke="#ff0000" stroke-width="1" stroke-dasharray="3 3"/>
</g>
<clipPath id="c3"><rect x="11" y="599" width="1662" height="127"/></clipPath>
<g clip-path="url(#c3)" shape-rendering="crispEdges">
<line x1="12" y1="637.5" x2="1673" y2="637.5" stroke="#c0c0c0" stroke-dasharray="3 3"/>
<line x1="12" y1="688.5" x2="1673" y2="688.5" stroke="#c0c0c0" stroke-dasharray="3 3"/>
<polyline points="11.5,647.5 19.5,645.0 27.5,643.5 35.5,640.5 43.5,636.0 51.5,635.5 59.5,660.5 67.5,660.5 75.5,662.5 83.5,660.5 91.5,664.5 99.5,651.5 107.5,649.5 115.5,653.5 123.5,651.5 131.5,648.5 139.5,657.5 147.5,655.5 155.5,652.5 163.5,648.5 171.5,646.5 179.5,652.5 187.5,658.5 195.5,660.5 203.5,664.5 211.5,660.5 219.5,664.5 227.5,665.5 235.5,668.5 243.5,678.5 251.5,670.0 259.5,674.5 267.5,674.5 275.5,674.5 283.5,670.0 291.5,663.5 299.5,665.5 307.5,660.5 315.5,663.0 323.5,667.5 331.5,672.0 339.5,668.5 347.5,665.5 355.5,664.5 363.5,665.5 371.5,666.5 379.5,671.5 387.5,677.0 395.5,665.5 403.5,667.5 411.5,669.5 419.5,672.5 427.5,670.5 435.5,670.5 443.5,639.5 451.5,640.5 459.5,630.5 467.5,639.5 475.5,648.5 483.5,647.5 491.5,647.5 499.5,650.5 507.5,650.5 515.5,650.5 523.5,647.5 531.5,649.5 539.5,640.5 547.5,640.5 555.5,640.5 563.5,650.5 571.5,646.5 579.5,643.5 587.5,652.5 595.5,651.5 603.5,652.5 611.5,648.5 619.5,650.5 627.5,656.5 635.5,658.0 643.5,666.5 651.5,666.5 659.5,671.5 667.5,673.0 675.5,671.5 683.5,666.5 691.5,669.5 699.5,663.5 707.5,668.5 715.5,672.5 723.5,668.5 731.5,664.5 739.5,660.5 747.5,666.5 755.5,669.5 763.5,659.5 771.5,658.5 779.5,641.5 787.5,646.5 795.5,643.5 803.5,651.5 811.5,659.5 819.5,660.5 827.5,650.5 835.5,644.5 843.5,648.5 851.5,655.5 859.5,658.5 867.5,658.5 875.5,678.5 883.5,677.5 891.5,677.5 899.5,680.5 907.5,683.5 915.5,687.0 923.5,669.5 931.5,678.5 939.5,678.5 947.5,675.5 955.5,678.5 963.5,672.5 971.5,678.5 979.5,680.0 987.5,681.5 995.5,685.0 1003.5,680.5 1011.5,681.5 1019.5,678.5 1027.5,683.5 1035.5,683.5 1043.5,678.5 1051.5,679.5 1059.5,677.5 1067.5,673.5 1075.5,671.5 1083.5,674.5 1091.5,673.5 1099.5,661.5 1107.5,652.5 1115.5,662.5 1123.5,666.5 1131.5,668.0 1139.5,668.0 1147.5,659.5 1155.5,656.5 1163.5,672.5 1171.5,676.5 1179.5,658.5 1187.5,661.5 1195.5,660.5 1203.5,660.5 1211.5,660.5 1219.5,665.5 1227.5,666.5 1235.5,666.5 1243.5,666.5 1251.5,662.5 1259.5,658.5 1267.5,661.5 1275.5,663.5 1283.5,660.5 1291.5,662.5 1299.5,662.5 1307.5,654.5 1315.5,673.5 1323.5,671.5" fill="none" stroke="#1e90ff" stroke-width="1" />
</g>
<g shape-rendering="crispEdges" fill="#000">
<rect x="1674" y="73" width="2" height="1"/>
<rect x="1674" y="122" width="2" height="1"/>
<rect x="1674" y="171" width="2" height="1"/>
<rect x="1674" y="220" width="2" height="1"/>
<rect x="1674" y="269" width="2" height="1"/>
<rect x="1674" y="318" width="2" height="1"/>
<rect x="1674" y="367" width="2" height="1"/>
<rect x="1674" y="416" width="2" height="1"/>
<rect x="1674" y="465" width="2" height="1"/>
<rect x="1674" y="514" width="2" height="1"/>
<rect x="1674" y="537" width="1" height="1"/>
<rect x="1674" y="567" width="1" height="1"/>
<rect x="1674" y="595" width="1" height="1"/>
<rect x="1674" y="600" width="1" height="1"/>
<rect x="1674" y="725" width="1" height="1"/>
<rect x="11" y="727" width="1" height="3"/>
<rect x="107" y="727" width="1" height="3"/>
<rect x="203" y="727" width="1" height="3"/>
<rect x="299" y="727" width="1" height="3"/>
<rect x="395" y="727" width="1" height="3"/>
<rect x="491" y="727" width="1" height="3"/>
<rect x="587" y="727" width="1" height="3"/>
<rect x="683" y="727" width="1" height="3"/>
<rect x="779" y="727" width="1" height="3"/>
<rect x="875" y="727" width="1" height="3"/>
<rect x="971" y="727" width="1" height="3"/>
<rect x="1067" y="727" width="1" height="3"/>
<rect x="1163" y="727" width="1" height="3"/>
<rect x="1259" y="727" width="1" height="3"/>
</g>
<g font-size="12.5px" fill="#000">
<text x="1680.2" y="78" textLength="45.5" lengthAdjust="spacingAndGlyphs">1555.60</text>
<text x="1680.2" y="127" textLength="45.5" lengthAdjust="spacingAndGlyphs">1547.35</text>
<text x="1680.2" y="176" textLength="45.5" lengthAdjust="spacingAndGlyphs">1538.95</text>
<text x="1680.2" y="225" textLength="45.5" lengthAdjust="spacingAndGlyphs">1530.70</text>
<text x="1680.2" y="274" textLength="45.5" lengthAdjust="spacingAndGlyphs">1522.45</text>
<text x="1680.2" y="323" textLength="45.5" lengthAdjust="spacingAndGlyphs">1514.20</text>
<text x="1680.2" y="372" textLength="45.5" lengthAdjust="spacingAndGlyphs">1505.80</text>
<text x="1680.2" y="421" textLength="45.5" lengthAdjust="spacingAndGlyphs">1497.55</text>
<text x="1680.2" y="470" textLength="45.5" lengthAdjust="spacingAndGlyphs">1489.30</text>
<text x="1680.2" y="519" textLength="45.5" lengthAdjust="spacingAndGlyphs">1481.05</text>
<text x="1677.5" y="549">12.174</text>
<text x="1677.5" y="572">0.00</text>
<text x="1677.5" y="593">-11.443</text>
<text x="1677.5" y="612">100</text>
<text x="1675.2" y="642">70</text>
<text x="1675.2" y="693">30</text>
<text x="1677.5" y="723">0</text>
<rect x="1675" y="218" width="56" height="14" fill="#ff0000" shape-rendering="crispEdges"/>
<text x="1680.2" y="230" fill="#fff" textLength="45.5" lengthAdjust="spacingAndGlyphs">1530.00</text>
<rect x="1675" y="396" width="56" height="14" fill="#00ff7f" shape-rendering="crispEdges"/>
<text x="1680.2" y="408" fill="#fff" textLength="45.5" lengthAdjust="spacingAndGlyphs">1500.00</text>
<rect x="1675" y="432" width="56" height="14" fill="#000000" shape-rendering="crispEdges"/>
<text x="1680.2" y="444" fill="#fff" textLength="45.5" lengthAdjust="spacingAndGlyphs">1493.65</text>
<rect x="1675" y="484" width="56" height="14" fill="#0000ff" shape-rendering="crispEdges"/>
<text x="1680.2" y="496" fill="#fff" textLength="45.5" lengthAdjust="spacingAndGlyphs">1485.00</text>
<text x="10.1" y="742" textLength="70.5" lengthAdjust="spacingAndGlyphs">12 Aug 2019</text>
<text x="106.1" y="742" textLength="74.5" lengthAdjust="spacingAndGlyphs">14 Aug 12:00</text>
<text x="202.1" y="742" textLength="74.5" lengthAdjust="spacingAndGlyphs">16 Aug 12:00</text>
<text x="298.1" y="742" textLength="74.5" lengthAdjust="spacingAndGlyphs">20 Aug 12:00</text>
<text x="394.1" y="742" textLength="74.5" lengthAdjust="spacingAndGlyphs">22 Aug 12:00</text>
<text x="490.1" y="742" textLength="74.5" lengthAdjust="spacingAndGlyphs">26 Aug 12:00</text>
<text x="586.1" y="742" textLength="74.5" lengthAdjust="spacingAndGlyphs">28 Aug 12:00</text>
<text x="682.1" y="742" textLength="74.5" lengthAdjust="spacingAndGlyphs">30 Aug 12:00</text>
<text x="778.1" y="742" textLength="67.5" lengthAdjust="spacingAndGlyphs">3 Sep 12:00</text>
<text x="874.1" y="742" textLength="67.5" lengthAdjust="spacingAndGlyphs">5 Sep 12:00</text>
<text x="970.1" y="742" textLength="67.5" lengthAdjust="spacingAndGlyphs">9 Sep 12:00</text>
<text x="1066.1" y="742" textLength="74.5" lengthAdjust="spacingAndGlyphs">11 Sep 12:00</text>
<text x="1162.1" y="742" textLength="74.5" lengthAdjust="spacingAndGlyphs">13 Sep 12:00</text>
<text x="1258.1" y="742" textLength="74.5" lengthAdjust="spacingAndGlyphs">17 Sep 12:00</text>
<text x="15" y="551" textLength="164" lengthAdjust="spacingAndGlyphs">MACD(12,26,9) -0.769 -0.214</text>
<text x="15" y="614" textLength="91.5" lengthAdjust="spacingAndGlyphs">RSI(14) 43.5556</text>
<text x="28.7" y="55" textLength="68.1" lengthAdjust="spacingAndGlyphs">XAUUSD-,H4</text><text x="106.3" y="55" textLength="195" lengthAdjust="spacingAndGlyphs">1492.16 1494.10 1491.54 1493.65</text>
</g>
<polygon points="14,53.5 23,53.5 18.5,48.5" fill="#000"/>
<g id="panel">
<rect x="14" y="63" width="283" height="76" fill="url(#gb)" shape-rendering="crispEdges"/>
<rect x="14" y="63" width="68" height="1" fill="#2424d4" shape-rendering="crispEdges"/><rect x="229" y="63" width="68" height="1" fill="#2424d4" shape-rendering="crispEdges"/><rect x="14" y="63" width="1" height="27" fill="#2c2cd8" shape-rendering="crispEdges"/><rect x="296" y="63" width="1" height="27" fill="#2c2cd8" shape-rendering="crispEdges"/><rect x="155" y="90" width="2" height="49" fill="#ffffff" shape-rendering="crispEdges"/>
<rect x="18" y="89" width="60" height="1" fill="#8c8cf0" shape-rendering="crispEdges"/>
<rect x="233" y="89" width="60" height="1" fill="#8c8cf0" shape-rendering="crispEdges"/>
<rect x="82" y="63" width="147" height="27" fill="#f0f0f0" shape-rendering="crispEdges"/>
<rect x="84.5" y="64.5" width="142" height="23" fill="#ffffff" stroke="#b4b4b4" stroke-width="1" shape-rendering="crispEdges"/>
<rect x="85.500" y="65.500" width="22" height="21" fill="url(#gs)" stroke="#a8a8a8" stroke-width="1" shape-rendering="crispEdges"/>
<rect x="203.500" y="65.500" width="22" height="21" fill="url(#gs)" stroke="#a8a8a8" stroke-width="1" shape-rendering="crispEdges"/>
<polygon points="93,74 100,74 96.5,78" fill="#4a5aa8"/>
<polygon points="211,78 218,78 214.5,74" fill="#4a5aa8"/>
<text x="199" y="80.800" font-size="15.500px" text-anchor="end" fill="#000">1.00</text>
<text x="31.3" y="81.5" font-size="15px" fill="#fff" textLength="32.7" lengthAdjust="spacingAndGlyphs">SELL</text>
<text x="248.6" y="81.5" font-size="15px" fill="#fff" textLength="27.6" lengthAdjust="spacingAndGlyphs">BUY</text>
<text x="44.7" y="127.8" font-size="14.5px" font-weight="bold" fill="#fff" textLength="34.3" lengthAdjust="spacingAndGlyphs">1493</text>
<text x="85.6" y="127.8" font-size="40.5px" fill="#fff" textLength="41.4" lengthAdjust="spacingAndGlyphs">64</text>
<text x="186.5" y="127.8" font-size="14.5px" font-weight="bold" fill="#fff" textLength="35.4" lengthAdjust="spacingAndGlyphs">1494</text>
<text x="228" y="127.8" font-size="40.5px" fill="#fff" textLength="40.5" lengthAdjust="spacingAndGlyphs">01</text>
</g>

</svg></body></html>
